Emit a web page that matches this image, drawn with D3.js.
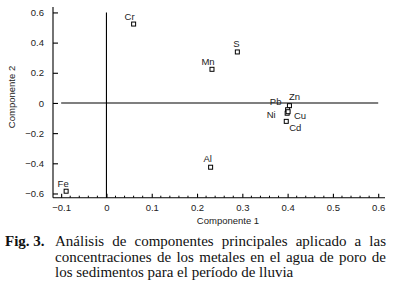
<!DOCTYPE html>
<html lang="es">
  <head>
    <meta charset="UTF-8">
    <title>Fig. 3 - PCA</title>
    <style>
      body { margin: 0; background: #fff; }
      #chart { position: relative; width: 394px; height: 293px; }
      .caption {
        position: absolute;
        left: 5px;
        top: 234px;
        width: 381px;
        font-family: "Liberation Serif", "Times New Roman", serif;
        font-size: 15px;
        line-height: 15.5px;
        color: #111;
        text-align: justify;
        padding-left: 50px;
        text-indent: -50px;
        box-sizing: border-box;
      }
      .caption b { display: inline-block; width: 50px; text-indent: 0; }
    </style>
  </head>
  <body>
    <div id="chart"></div>
    <script src="https://d3js.org/d3.v7.min.js"></script>
    <script>
      // loadings
      const elements = ["Cr", "S", "Mn", "Zn", "Pb", "Ni", "Cu", "Cd", "Al", "Fe"];
      const comp1 = [0.060, 0.289, 0.233, 0.404, 0.400, 0.399, 0.401, 0.397, 0.230, -0.089];
      const comp2 = [0.523, 0.338, 0.223, -0.018, -0.045, -0.068, -0.058, -0.122, -0.426, -0.585];
      const xTicks = [-0.1, 0, 0.1, 0.2, 0.3, 0.4, 0.5, 0.6];
      const yTicks = [-0.6, -0.4, -0.2, 0, 0.2, 0.4, 0.6];

      // where each label sits relative to its marker
      const labelOffsets = {
        Cr: [-4, -4], S: [-1, -5], Mn: [-4, -4], Zn: [5, -6], Pb: [-12, -5],
        Ni: [-16, 5], Cu: [12, 7], Cd: [9, 10], Al: [-3, -5], Fe: [-3, -4]
      };

      const data = elements.map((e, i) => ({ name: e, x: comp1[i], y: comp2[i] }));

      const svg = d3.select("#chart").append("svg")
        .attr("width", 394)
        .attr("height", 293)
        .style("position", "absolute")
        .style("left", 0).style("top", 0);

      const x = d3.scaleLinear().domain([-0.118, 0.615]).range([53, 385]);
      const y = d3.scaleLinear().domain([-0.628, 0.636]).range([197.7, 7]);

      const font = "'Liberation Sans', Arial, sans-serif";
      const fmt = d => d === 0 ? "0" : d3.format(".1f")(d).replace("-", "\u2212");

      // x axis (ticks pointing inward)
      const xAxis = svg.append("g")
        .attr("transform", "translate(0," + y.range()[0] + ")")
        .call(d3.axisBottom(x).tickValues(xTicks).tickSize(-4).tickPadding(7).tickFormat(fmt));
      xAxis.select(".domain").attr("d", "M" + x.range()[0] + ",0H" + x.range()[1]);

      // minor ticks on x
      const minor = d3.range(-0.1, 0.61, 0.02).filter(v => Math.abs(Math.round(v * 10) - v * 10) > 0.01);
      svg.append("g").selectAll("line").data(minor).join("line")
        .attr("x1", d => x(d)).attr("x2", d => x(d))
        .attr("y1", y.range()[0]).attr("y2", y.range()[0] - 2)
        .attr("stroke", "#000").attr("stroke-width", 1);

      const yAxis = svg.append("g")
        .attr("transform", "translate(" + x.range()[0] + ",0)")
        .call(d3.axisLeft(y).tickValues(yTicks).tickSize(-5).tickPadding(9).tickFormat(fmt));
      yAxis.select(".domain").attr("d", "M0," + y.range()[1] + "V" + y.range()[0]);

      svg.selectAll(".tick text").style("font-family", font).style("font-size", "9.5px").attr("fill", "#222");
      svg.selectAll(".domain, .tick line").attr("stroke", "#000").attr("stroke-width", 1.1);

      // reference lines through the origin
      svg.append("line")
        .attr("x1", x(-0.1)).attr("x2", x(0.6))
        .attr("y1", y(0)).attr("y2", y(0))
        .attr("stroke", "#000").attr("stroke-width", 1.1);
      svg.append("line")
        .attr("x1", x(0)).attr("x2", x(0))
        .attr("y1", y(0.6)).attr("y2", y.range()[0])
        .attr("stroke", "#000").attr("stroke-width", 1.1);

      // markers
      svg.append("g").selectAll("rect").data(data).join("rect")
        .attr("x", d => x(d.x) - 2)
        .attr("y", d => y(d.y) - 2)
        .attr("width", 4).attr("height", 4)
        .attr("fill", "#fff").attr("stroke", "#000").attr("stroke-width", 1);

      svg.append("g").selectAll("text").data(data).join("text")
        .attr("x", d => x(d.x) + labelOffsets[d.name][0])
        .attr("y", d => y(d.y) + labelOffsets[d.name][1])
        .attr("text-anchor", "middle")
        .style("font-family", font)
        .style("font-size", "9.5px")
        .attr("fill", "#222")
        .text(d => d.name);

      // axis titles
      svg.append("text")
        .attr("x", 228).attr("y", 224)
        .attr("text-anchor", "middle")
        .style("font-family", font).style("font-size", "9.5px").attr("fill", "#222")
        .text("Componente 1");
      svg.append("text")
        .attr("transform", "translate(15,97) rotate(-90)")
        .attr("text-anchor", "middle")
        .style("font-family", font).style("font-size", "9.5px").attr("fill", "#222")
        .text("Componente 2");

      d3.select("#chart").append("div")
        .attr("class", "caption")
        .html("<b>Fig. 3.</b>Análisis de componentes principales aplicado a las concentraciones de los metales en el agua de poro de los sedimentos para el período de lluvia");
    </script>
  </body>
</html>
